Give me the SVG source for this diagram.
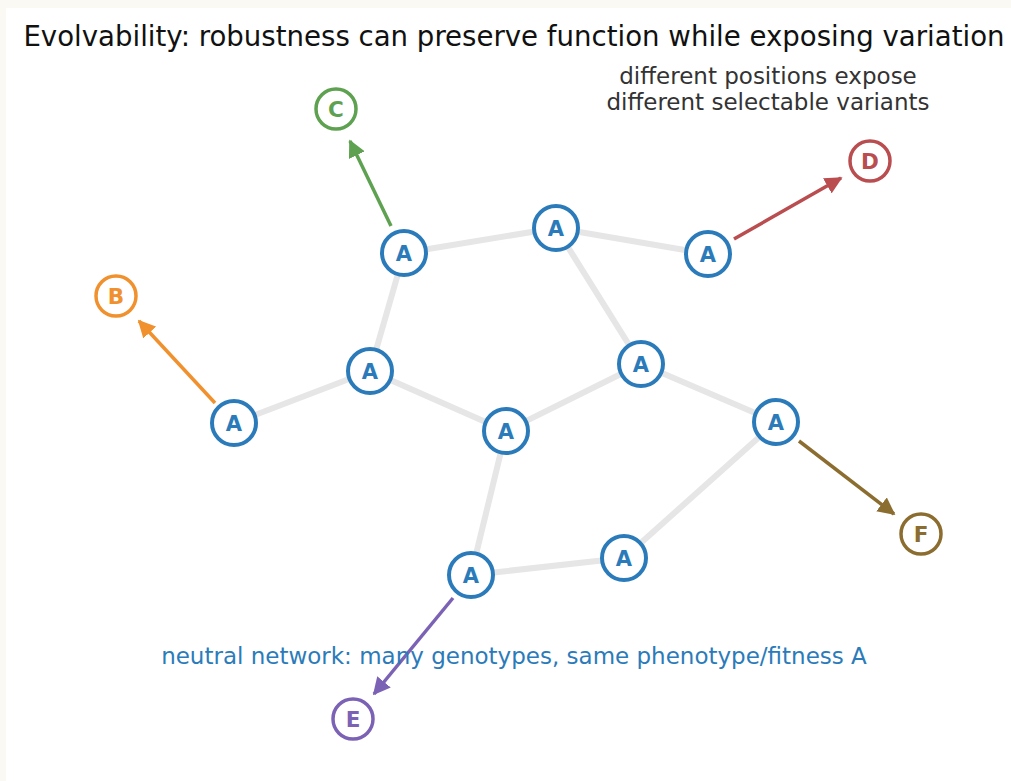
<svg xmlns="http://www.w3.org/2000/svg" width="1011" height="781" viewBox="0 0 1011 781">
<defs>
<style>
.edge{stroke:#e6e6e6;stroke-width:6;stroke-linecap:round;fill:none}
.a circle{fill:#fff;stroke:#2b7bba;stroke-width:4}
.a text{fill:#2b7bba;font:bold 21px "DejaVu Sans",sans-serif;text-anchor:middle}
.v circle{fill:#fff;stroke-width:3.5}
.v text{font:bold 21.5px "DejaVu Sans",sans-serif;text-anchor:middle}
.arr{stroke-width:3.5;fill:none}
</style>
<marker id="mC" viewBox="0 0 10 10" refX="9" refY="5" markerWidth="5" markerHeight="5" orient="auto" markerUnits="strokeWidth"><path d="M0,0 L10,5 L0,10 z" fill="#5ea150"/></marker>
<marker id="mD" viewBox="0 0 10 10" refX="9" refY="5" markerWidth="5" markerHeight="5" orient="auto" markerUnits="strokeWidth"><path d="M0,0 L10,5 L0,10 z" fill="#b94d4f"/></marker>
<marker id="mB" viewBox="0 0 10 10" refX="9" refY="5" markerWidth="5" markerHeight="5" orient="auto" markerUnits="strokeWidth"><path d="M0,0 L10,5 L0,10 z" fill="#f0912e"/></marker>
<marker id="mE" viewBox="0 0 10 10" refX="9" refY="5" markerWidth="5" markerHeight="5" orient="auto" markerUnits="strokeWidth"><path d="M0,0 L10,5 L0,10 z" fill="#7b62b5"/></marker>
<marker id="mF" viewBox="0 0 10 10" refX="9" refY="5" markerWidth="5" markerHeight="5" orient="auto" markerUnits="strokeWidth"><path d="M0,0 L10,5 L0,10 z" fill="#8c6d30"/></marker>
</defs>
<rect width="1011" height="781" fill="#faf9f4"/>
<rect x="6" y="8" width="1005" height="773" fill="#fff"/>
<text x="514" y="46" font-family="DejaVu Sans, sans-serif" font-size="27.6" text-anchor="middle" fill="#111">Evolvability: robustness can preserve function while exposing variation</text>
<text x="768" y="84" font-family="DejaVu Sans, sans-serif" font-size="23" text-anchor="middle" fill="#333">different positions expose</text>
<text x="768" y="110" font-family="DejaVu Sans, sans-serif" font-size="23" text-anchor="middle" fill="#333">different selectable variants</text>
<g id="connectors">
<line class="edge" x1="404" y1="253" x2="556" y2="228"/>
<line class="edge" x1="556" y1="228" x2="708" y2="254"/>
<line class="edge" x1="404" y1="253" x2="370" y2="371"/>
<line class="edge" x1="556" y1="228" x2="641" y2="364"/>
<line class="edge" x1="370" y1="371" x2="234" y2="423"/>
<line class="edge" x1="370" y1="371" x2="506" y2="431"/>
<line class="edge" x1="506" y1="431" x2="641" y2="364"/>
<line class="edge" x1="641" y1="364" x2="776" y2="422"/>
<line class="edge" x1="506" y1="431" x2="471" y2="575"/>
<line class="edge" x1="471" y1="575" x2="624" y2="558"/>
<line class="edge" x1="624" y1="558" x2="776" y2="422"/>
<line class="arr" stroke="#5ea150" x1="391" y1="226" x2="350" y2="141" marker-end="url(#mC)"/>
<line class="arr" stroke="#b94d4f" x1="734" y1="239" x2="841" y2="178" marker-end="url(#mD)"/>
<line class="arr" stroke="#f0912e" x1="215" y1="403" x2="139" y2="321" marker-end="url(#mB)"/>
<line class="arr" stroke="#7b62b5" x1="453" y1="598" x2="374" y2="694" marker-end="url(#mE)"/>
<line class="arr" stroke="#8c6d30" x1="799" y1="441" x2="894" y2="514" marker-end="url(#mF)"/>
</g>
<g id="a1" class="a"><circle cx="404" cy="253" r="22"/><text x="404" y="261">A</text></g>
<g id="a2" class="a"><circle cx="556" cy="228" r="22"/><text x="556" y="236">A</text></g>
<g id="a3" class="a"><circle cx="708" cy="254" r="22"/><text x="708" y="262">A</text></g>
<g id="a4" class="a"><circle cx="370" cy="371" r="22"/><text x="370" y="379">A</text></g>
<g id="a5" class="a"><circle cx="641" cy="364" r="22"/><text x="641" y="372">A</text></g>
<g id="a6" class="a"><circle cx="234" cy="423" r="22"/><text x="234" y="431">A</text></g>
<g id="a7" class="a"><circle cx="506" cy="431" r="22"/><text x="506" y="439">A</text></g>
<g id="a8" class="a"><circle cx="776" cy="422" r="22"/><text x="776" y="430">A</text></g>
<g id="a9" class="a"><circle cx="471" cy="575" r="22"/><text x="471" y="583">A</text></g>
<g id="a10" class="a"><circle cx="624" cy="558" r="22"/><text x="624" y="566">A</text></g>
<g id="c" class="v"><circle cx="336" cy="109" r="20" stroke="#5ea150"/><text x="336" y="117" fill="#5ea150">C</text></g>
<g id="d" class="v"><circle cx="870" cy="161" r="20" stroke="#b94d4f"/><text x="870" y="169" fill="#b94d4f">D</text></g>
<g id="b" class="v"><circle cx="116" cy="296" r="20" stroke="#f0912e"/><text x="116" y="304" fill="#f0912e">B</text></g>
<g id="e" class="v"><circle cx="353" cy="719" r="20" stroke="#7b62b5"/><text x="353" y="727" fill="#7b62b5">E</text></g>
<g id="f" class="v"><circle cx="921" cy="534" r="20" stroke="#8c6d30"/><text x="921" y="542" fill="#8c6d30">F</text></g>
<text x="514" y="664" font-family="DejaVu Sans, sans-serif" font-size="23" text-anchor="middle" fill="#2b7bba">neutral network: many genotypes, same phenotype/fitness A</text>
</svg>
